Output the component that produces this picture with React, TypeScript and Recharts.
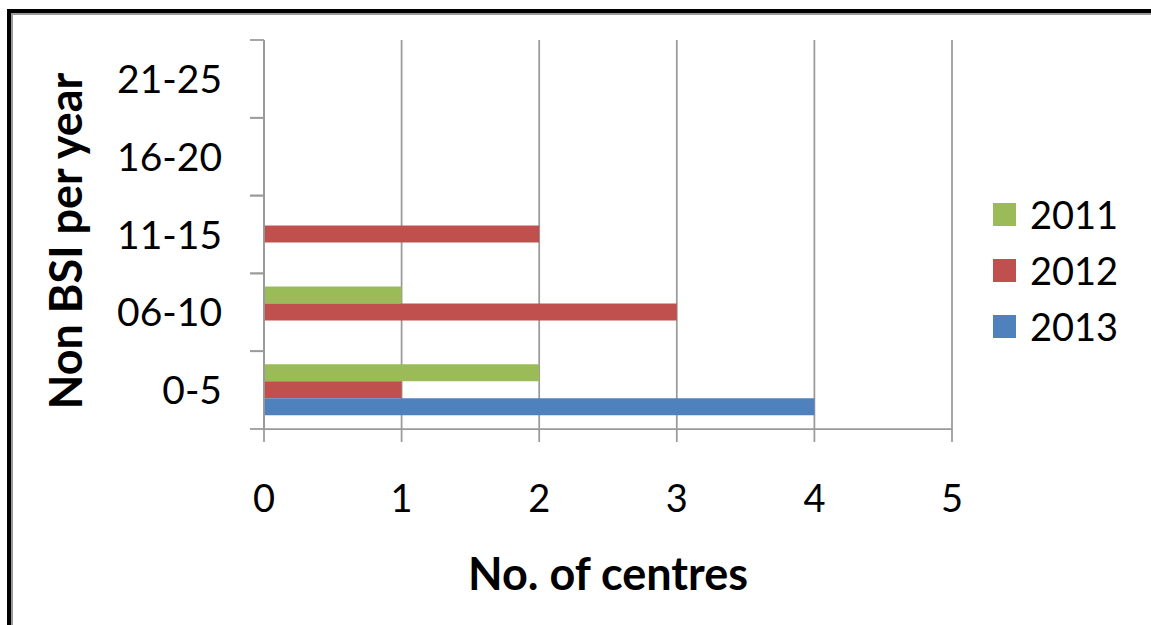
import { BarChart, Bar, XAxis, YAxis, CartesianGrid, Legend } from 'recharts'

// Non BSI per year ranges, listed top to bottom as drawn
const categories = ['21-25', '16-20', '11-15', '06-10', '0-5']
const values2011 = [0, 0, 0, 1, 2]
const values2012 = [0, 0, 2, 3, 1]
const values2013 = [0, 0, 0, 0, 4]
const seriesNames = ['2011', '2012', '2013']
const seriesColors = ['#9BBB59', '#C0504D', '#4F81BD']
const xTicks = [0, 1, 2, 3, 4, 5]

const chartData = categories.map((cat, i) => ({
  cat,
  y2011: values2011[i],
  y2012: values2012[i],
  y2013: values2013[i],
}))

const FONT = 'Lato, "Open Sans", sans-serif'
const GRAY = '#9a9a9a'
const Y_TICK_MARGIN = 42
const Y_TICK_LEN = 14

// category label plus Excel-style tick marks on the band edges
function CategoryTick(props: any) {
  const { x, y, payload } = props
  const axisX = x + Y_TICK_MARGIN
  const half = payload && payload.offset ? payload.offset : 39
  return (
    <g>
      <text x={x} y={y} dy="0.36em" textAnchor="end" fill="#000" fontSize={39} fontFamily={FONT}>
        {payload.value}
      </text>
      <line x1={axisX - Y_TICK_LEN} x2={axisX} y1={y - half} y2={y - half} stroke={GRAY} strokeWidth={1.75} />
      <line x1={axisX - Y_TICK_LEN} x2={axisX} y1={y + half} y2={y + half} stroke={GRAY} strokeWidth={1.75} />
    </g>
  )
}

function LegendList({ payload }: any) {
  return (
    <div style={{ fontFamily: FONT, fontSize: 38, color: '#000' }}>
      {(payload || []).map((entry: any) => (
        <div key={entry.value} style={{ display: 'flex', alignItems: 'center', height: 56 }}>
          <span
            style={{ width: 23, height: 23, background: entry.color, marginRight: 14, display: 'inline-block' }}
          />
          <span>{entry.value}</span>
        </div>
      ))}
    </div>
  )
}

export default function App() {
  return (
    <div
      style={{
        position: 'absolute',
        left: 0,
        top: 0,
        width: 1151,
        height: 625,
        overflow: 'hidden',
        background: '#fff',
      }}
    >
      {/* frame (right / bottom edges fall outside the picture) */}
      <div
        style={{
          position: 'absolute',
          left: 7,
          top: 9,
          width: 1300,
          height: 800,
          borderLeft: '4px solid #000',
          borderTop: '4px solid #000',
          boxShadow: 'inset 2px 2px 0 #9a9a9a',
        }}
      />
      <div style={{ position: 'absolute', left: 0, top: 0 }}>
        <BarChart
          width={1151}
          height={625}
          data={chartData}
          layout="vertical"
          margin={{ top: 40, right: 199, bottom: 0, left: 124 }}
          barGap={0}
          barSize={17}
        >
          <CartesianGrid horizontal={false} stroke={GRAY} strokeWidth={1.75} />
          <XAxis
            type="number"
            domain={[0, 5]}
            ticks={xTicks}
            interval={0}
            height={196}
            tickSize={13}
            tickMargin={43}
            axisLine={{ stroke: GRAY, strokeWidth: 1.75 }}
            tickLine={{ stroke: GRAY, strokeWidth: 1.75 }}
            tick={{ fill: '#000', fontSize: 38, fontFamily: FONT }}
            label={{
              value: 'No. of centres',
              position: 'insideBottom',
              offset: 35,
              fill: '#000',
              fontSize: 45,
              fontWeight: 'bold',
              fontFamily: FONT,
            }}
          />
          <YAxis
            type="category"
            dataKey="cat"
            width={140}
            axisLine={{ stroke: GRAY, strokeWidth: 1.75 }}
            tickLine={false}
            tickSize={0}
            tickMargin={Y_TICK_MARGIN}
            interval={0}
            tick={<CategoryTick />}
            label={{
              content: () => (
                <text
                  x={0}
                  y={0}
                  transform="translate(82, 241) rotate(-90)"
                  textAnchor="middle"
                  fill="#000"
                  fontSize={45}
                  fontWeight="bold"
                  fontFamily={FONT}
                >
                  Non BSI per year
                </text>
              ),
            }}
          />
          <Legend
            layout="horizontal"
            verticalAlign="middle"
            align="center"
            content={<LegendList />}
            wrapperStyle={{ left: 993, top: 186, width: 160, height: 170 }}
          />
          <Bar dataKey="y2011" name={seriesNames[0]} fill={seriesColors[0]} isAnimationActive={false} />
          <Bar dataKey="y2012" name={seriesNames[1]} fill={seriesColors[1]} isAnimationActive={false} />
          <Bar dataKey="y2013" name={seriesNames[2]} fill={seriesColors[2]} isAnimationActive={false} />
        </BarChart>
      </div>
    </div>
  )
}
